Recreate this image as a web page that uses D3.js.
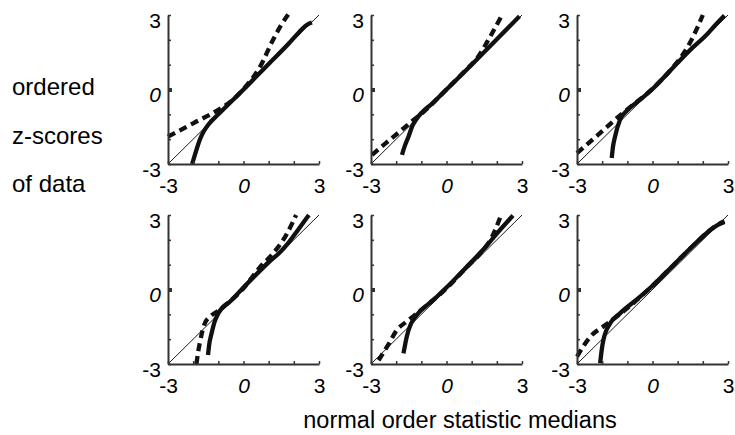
<!DOCTYPE html>
<html>
<head>
<meta charset="utf-8">
<script src="https://cdn.jsdelivr.net/npm/d3@7"></script>
<style>
  body { margin: 0; background: #fff; }
  text { font-family: "Liberation Sans", Arial, sans-serif; }
</style>
</head>
<body>
<div id="chart"></div>
<script>
const tickValues = [-3, -2, -1, 0, 1, 2, 3];
const labelValues = [-3, 0, 3];
const yTitle = ['ordered', 'z-scores', 'of data'];
const xTitle = 'normal order statistic medians';

// [normal order statistic median, ordered z-score]
const solid1 = [[-2.04, -3], [-1.87, -2.43], [-1.74, -2.03], [-1.6, -1.72], [-1.4, -1.42], [-1, -1.0], [0, 0.0], [1, 1.03], [1.8, 1.85], [2.2, 2.3], [2.45, 2.55], [2.6, 2.65], [2.72, 2.7]];
const dashed1 = [[-3, -1.9], [-2, -1.36], [-1, -0.82], [-0.5, -0.48], [-0.25, -0.25], [0, 0.02], [0.3, 0.38], [0.65, 0.9], [1.15, 1.95], [1.5, 2.6], [1.8, 3.05]];
const solid2 = [[-1.77, -2.63], [-1.65, -2.25], [-1.51, -1.9], [-1.35, -1.45], [-1.2, -1.2], [-0.5, -0.5], [0, 0], [1, 1.0], [2, 2.02], [2.9, 2.95]];
const dashed2 = [[-2.96, -2.63], [-2.4, -2.15], [-1.9, -1.73], [-1.4, -1.3], [-1, -0.98], [0, 0], [0.8, 0.82], [1.2, 1.24], [1.72, 2.1], [2.18, 2.95]];
const solid3 = [[-1.62, -2.76], [-1.57, -2.3], [-1.49, -1.9], [-1.29, -1.22], [-1.02, -0.85], [-0.5, -0.42], [0, 0.02], [1, 1.08], [1.5, 1.6], [2.1, 2.15], [2.5, 2.6], [2.86, 2.98]];
const dashed3 = [[-3, -2.56], [-2, -1.68], [-1.3, -1.05], [-0.9, -0.72], [0, 0.03], [0.8, 0.88], [1.2, 1.4], [1.6, 2.1], [2.0, 3.0]];
const solid4 = [[-1.41, -2.64], [-1.36, -2.2], [-1.27, -1.77], [-1.15, -1.3], [-1.0, -0.96], [-0.5, -0.45], [0, 0.08], [0.5, 0.6], [1, 1.1], [1.4, 1.45], [1.8, 1.9], [2.2, 2.45], [2.6, 3.0]];
const dashed4 = [[-1.87, -3], [-1.8, -2.5], [-1.74, -2.17], [-1.54, -1.37], [-1.3, -1.07], [-1.0, -0.85], [0, 0.05], [0.64, 0.88], [1.17, 1.45], [1.7, 2.2], [2.09, 3.0]];
const solid5 = [[-1.71, -2.57], [-1.64, -2.2], [-1.58, -1.9], [-1.42, -1.4], [-1.25, -1.12], [-0.5, -0.4], [0, 0.08], [0.92, 1.04], [1.5, 1.65], [2, 2.25], [2.64, 2.98]];
const dashed5 = [[-2.7, -2.85], [-2.3, -2.2], [-1.97, -1.63], [-1.6, -1.3], [-1.25, -1.02], [0, 0.05], [0.8, 0.9], [1.45, 1.58], [1.8, 2.1], [2.15, 2.95]];
const solid6 = [[-2.08, -2.97], [-2.02, -2.45], [-1.95, -2.03], [-1.68, -1.36], [-1.29, -0.96], [-0.5, -0.3], [0, 0.15], [0.8, 0.95], [1.6, 1.75], [2.3, 2.4], [2.6, 2.6], [2.86, 2.72]];
const dashed6 = [[-3, -2.7], [-2.47, -1.9], [-1.9, -1.45], [-1.42, -1.09], [-1, -0.75], [0, 0.15], [0.8, 0.95], [1.6, 1.75], [2.3, 2.4], [2.6, 2.62], [2.86, 2.75]];

const panels = [
  { col: 0, row: 0, solid: solid1, dashed: dashed1 },
  { col: 1, row: 0, solid: solid2, dashed: dashed2 },
  { col: 2, row: 0, solid: solid3, dashed: dashed3 },
  { col: 0, row: 1, solid: solid4, dashed: dashed4 },
  { col: 1, row: 1, solid: solid5, dashed: dashed5 },
  { col: 2, row: 1, solid: solid6, dashed: dashed6 },
];

const width = 735;
const height = 435;
const colX = [168, 371, 577];
const rowY = [15, 215];
const pw = 151;
const ph = 149;

const svg = d3.select('#chart').append('svg')
  .attr('width', width)
  .attr('height', height);

const xScale = d3.scaleLinear().domain([-3, 3]).range([0, pw]);
const yScale = d3.scaleLinear().domain([-3, 3]).range([ph, 0]);

const lineGen = d3.line()
  .x((d) => xScale(d[0]))
  .y((d) => yScale(d[1]))
  .curve(d3.curveMonotoneX);

const fmt = (d) => (labelValues.includes(d) ? String(d) : '');

panels.forEach((p) => {
  const g = svg.append('g')
    .attr('transform', `translate(${colX[p.col]},${rowY[p.row]})`);

  // reference line y = x
  g.append('line')
    .attr('x1', xScale(-3)).attr('y1', yScale(-3))
    .attr('x2', xScale(3)).attr('y2', yScale(3))
    .attr('stroke', '#000')
    .attr('stroke-width', 0.9);

  g.append('path')
    .datum(p.solid)
    .attr('d', lineGen)
    .attr('fill', 'none')
    .attr('stroke', '#111')
    .attr('stroke-width', 4.3);

  g.append('path')
    .datum(p.dashed)
    .attr('d', lineGen)
    .attr('fill', 'none')
    .attr('stroke', '#111')
    .attr('stroke-width', 4.3)
    .attr('stroke-dasharray', '8,5');

  const xAxis = d3.axisBottom(xScale)
    .tickValues(tickValues)
    .tickFormat(fmt)
    .tickSizeInner(-3)
    .tickSizeOuter(0)
    .tickPadding(14);

  const yAxis = d3.axisLeft(yScale)
    .tickValues(tickValues)
    .tickFormat(fmt)
    .tickSizeInner(-3)
    .tickSizeOuter(0)
    .tickPadding(7);

  const xg = g.append('g')
    .attr('transform', `translate(0,${ph})`)
    .call(xAxis);
  const yg = g.append('g').call(yAxis);

  [xg, yg].forEach((ag) => {
    ag.select('.domain').attr('stroke', '#333').attr('stroke-width', 2);
    ag.selectAll('.tick line').attr('stroke', '#333').attr('stroke-width', 1.5);
    ag.selectAll('.tick text')
      .attr('fill', '#000')
      .style('font-size', '21px')
      .style('font-family', '"Liberation Sans", Arial, sans-serif')
      .style('font-style', (d) => (d === 0 ? 'italic' : 'normal'));
  });
  yg.selectAll('.tick text').attr('dy', '0.58em');
  // heavier mark at zero on the vertical axis
  yg.selectAll('.tick line').filter((d) => d === 0)
    .attr('stroke-width', 4).attr('x2', 4);
});

svg.selectAll('.ytitle')
  .data(yTitle)
  .enter()
  .append('text')
  .attr('x', 12)
  .attr('y', (d, i) => 95 + i * 48.5)
  .style('font-size', '24px')
  .attr('fill', '#000')
  .text((d) => d);

svg.append('text')
  .attr('x', 460)
  .attr('y', 428)
  .attr('text-anchor', 'middle')
  .style('font-size', '23.5px')
  .attr('fill', '#000')
  .text(xTitle);
</script>
</body>
</html>
